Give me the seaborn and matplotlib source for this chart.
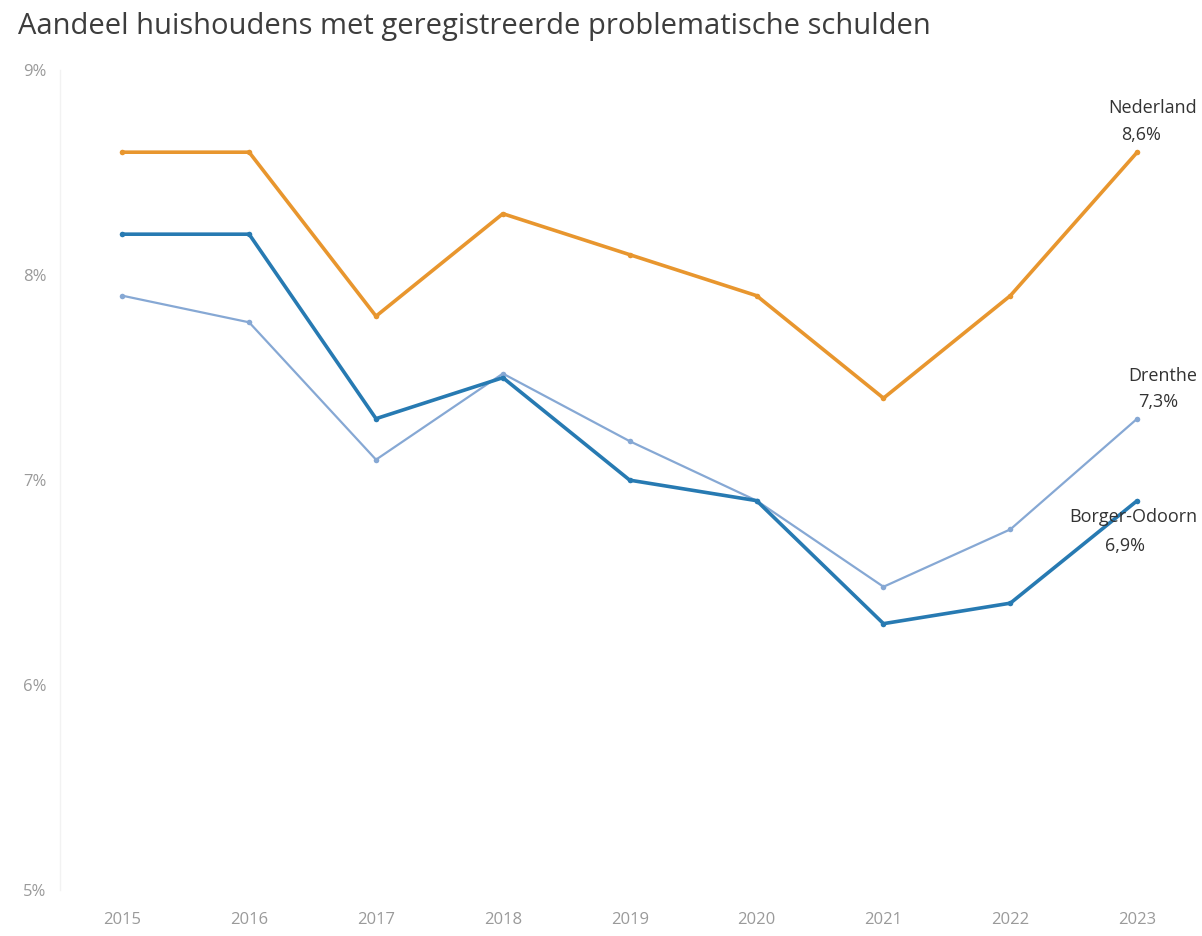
import matplotlib
matplotlib.use('Agg')
import matplotlib.pyplot as plt
import pandas as pd
import seaborn as sns

years = [2015, 2016, 2017, 2018, 2019, 2020, 2021, 2022, 2023]
nederland = [8.6, 8.6, 7.8, 8.3, 8.1, 7.9, 7.4, 7.9, 8.6]
drenthe = [7.9, 7.77, 7.1, 7.52, 7.19, 6.9, 6.48, 6.76, 7.3]
borger_odoorn = [8.2, 8.2, 7.3, 7.5, 7.0, 6.9, 6.3, 6.4, 6.9]

series_names = ['Nederland', 'Drenthe', 'Borger-Odoorn']
value_labels = ['8,6%', '7,3%', '6,9%']
colors = {'Nederland': '#E8962E', 'Drenthe': '#86A8D4', 'Borger-Odoorn': '#277AB2'}
widths = {'Nederland': 2.6, 'Drenthe': 1.6, 'Borger-Odoorn': 2.6}

df = pd.DataFrame({
    'jaar': years * 3,
    'aandeel': nederland + drenthe + borger_odoorn,
    'gebied': [n for n in series_names for _ in years],
})

sns.set_style('white')
plt.rcParams['font.family'] = ['Open Sans', 'DejaVu Sans']

fig = plt.figure(figsize=(12.02, 9.36), dpi=100)
ax = fig.add_axes([0.05, 0.049, 0.932, 0.876])

for name in series_names:
    sub = df[df['gebied'] == name]
    sns.lineplot(data=sub, x='jaar', y='aandeel', ax=ax, color=colors[name],
                 linewidth=widths[name], marker='o', markersize=4,
                 markeredgewidth=0, legend=False)

ax.set_xlim(2014.51, 2023.34)
ax.set_ylim(5, 9)
ax.set_xticks(years)
ax.set_xticklabels([str(y) for y in years])
ax.set_yticks([5, 6, 7, 8, 9])
ax.set_yticklabels(['5%', '6%', '7%', '8%', '9%'])
ax.tick_params(axis='both', length=0, labelsize=12, labelcolor='#9a9a9a')
ax.tick_params(axis='x', pad=16)
ax.tick_params(axis='y', pad=10)
ax.set_xlabel('')
ax.set_ylabel('')
for s in ['top', 'right', 'bottom']:
    ax.spines[s].set_visible(False)
ax.spines['left'].set_color('#f2f2f2')
ax.spines['left'].set_linewidth(1)

last = {'Nederland': nederland[-1], 'Drenthe': drenthe[-1], 'Borger-Odoorn': borger_odoorn[-1]}
# offsets in points: (name dy, value dx, value dy)
offs = {'Nederland': (32, 3, 12.5), 'Drenthe': (31, 15, 12), 'Borger-Odoorn': (-12, -9, -33)}
for name, val in zip(series_names, value_labels):
    y = last[name]
    n_dy, v_dx, v_dy = offs[name]
    ax.annotate(name, xy=(0.996, y), xycoords=('figure fraction', 'data'),
                xytext=(0, n_dy), textcoords='offset points',
                ha='right', va='center', fontsize=13, color='#333333')
    ax.annotate(val, xy=(years[-1], y), xycoords='data',
                xytext=(v_dx, v_dy), textcoords='offset points',
                ha='center', va='center', fontsize=13, color='#333333')

fig.text(0.015, 0.972, 'Aandeel huishoudens met geregistreerde problematische schulden',
         fontsize=21, color='#3d3d3d', ha='left', va='center')

fig.savefig('out.png', dpi=100)
